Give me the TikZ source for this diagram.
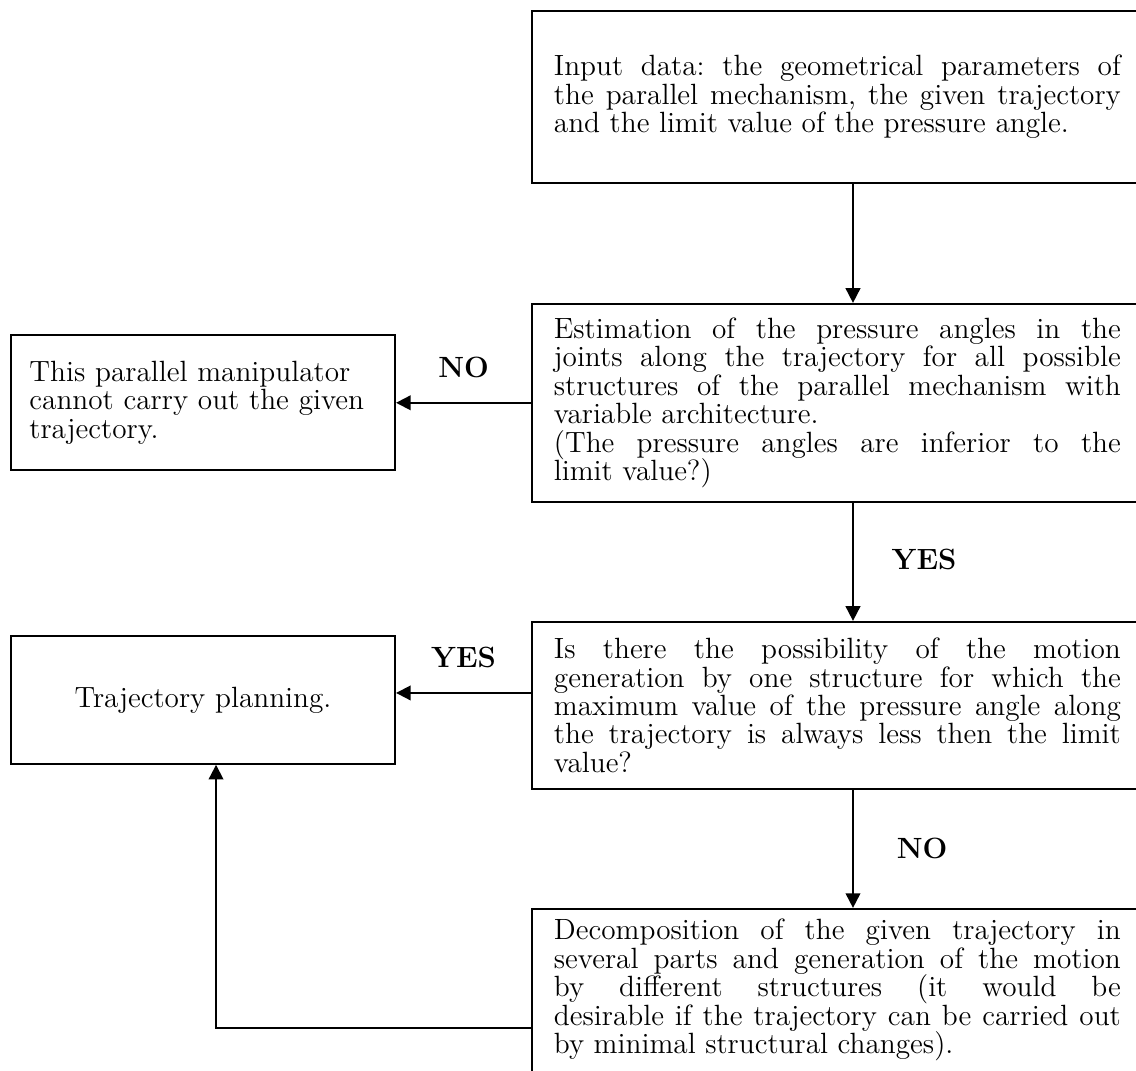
\documentclass[tikz,border=0pt]{standalone}
\usepackage{tikz}
\usetikzlibrary{positioning,arrows.meta}
\newcommand\boxfont{\fontsize{14pt}{13.6pt}\selectfont\lineskiplimit=-10pt\relax\frenchspacing}
\tikzset{
  block/.style={rectangle, draw, line width=0.9pt, text width=271pt, inner xsep=10.5pt,
                inner ysep=6pt, align=justify, font=\boxfont},
  sidebox/.style={rectangle, draw, line width=0.9pt, text width=166pt, inner xsep=8.8pt,
                  align=left, font=\boxfont},
  answer/.style={font=\fontsize{14pt}{13.6pt}\selectfont\bfseries, inner sep=0pt},
  flow/.style={-{Triangle[length=7pt,width=7pt]}, line width=0.9pt}
}

\begin{document}
\begin{tikzpicture}[x=0.478pt, y=-0.478pt, node distance=56.5pt]
\useasboundingbox (0,0) rectangle (1136,1071);
% right column
\node[block, anchor=north west, minimum height=82.2pt] (input) at (531,10)
  {Input data: the geometrical parameters of\linebreak the parallel mechanism, the given trajectory\linebreak and the limit value of the pressure angle.};
\node[block, below=56.9pt of input, minimum height=94.6pt] (estimate)
  {Estimation of the pressure angles in the\linebreak joints along the trajectory for all possible\linebreak structures of the parallel mechanism with\linebreak variable architecture.\\(The pressure angles are inferior to the\linebreak limit value?)};
\node[block, below=of estimate, minimum height=79.8pt] (check)
  {Is there the possibility of the motion\linebreak generation by one structure for which the\linebreak maximum value of the pressure angle along\linebreak the trajectory is always less then the limit\linebreak value?};
\node[block, below=of check, inner ysep=5pt] (split)
  {Decomposition of the given trajectory in\linebreak several parts and generation of the motion\linebreak by different structures (it would be\linebreak desirable if the trajectory can be carried out\linebreak by minimal structural changes).\par\vspace*{14pt}};
% left column
\node[sidebox, left=64.5pt of estimate, minimum height=64.5pt] (fail)
  {This parallel manipulator\\cannot carry out the given\\trajectory.};
\node[sidebox, left=64.5pt of check, yshift=2.6pt, minimum height=61.2pt, align=center] (plan)
  {Trajectory planning.};
\coordinate (spine) at (853,0);
% connectors
\draw[flow] (input.south -| spine) -- (estimate.north -| spine);
\draw[flow] (estimate.west) -- node[answer, yshift=17pt] (no1) {NO} (estimate.west -| fail.east);
\draw[flow] (estimate.south -| spine) -- node[answer, xshift=34pt, yshift=1pt] (yes1) {YES} (check.north -| spine);
\draw[flow] ([yshift=3.3pt]plan.east -| check.west) -- node[answer, yshift=17pt] (yes2) {YES} ([yshift=3.3pt]plan.east);
\draw[flow] (check.south -| spine) -- node[answer, xshift=33pt] (no2) {NO} (split.north -| spine);
\draw[flow] ([yshift=-57.4pt]split.north west) -| ([xshift=6.2pt]plan.south);
\end{tikzpicture}
\end{document}
